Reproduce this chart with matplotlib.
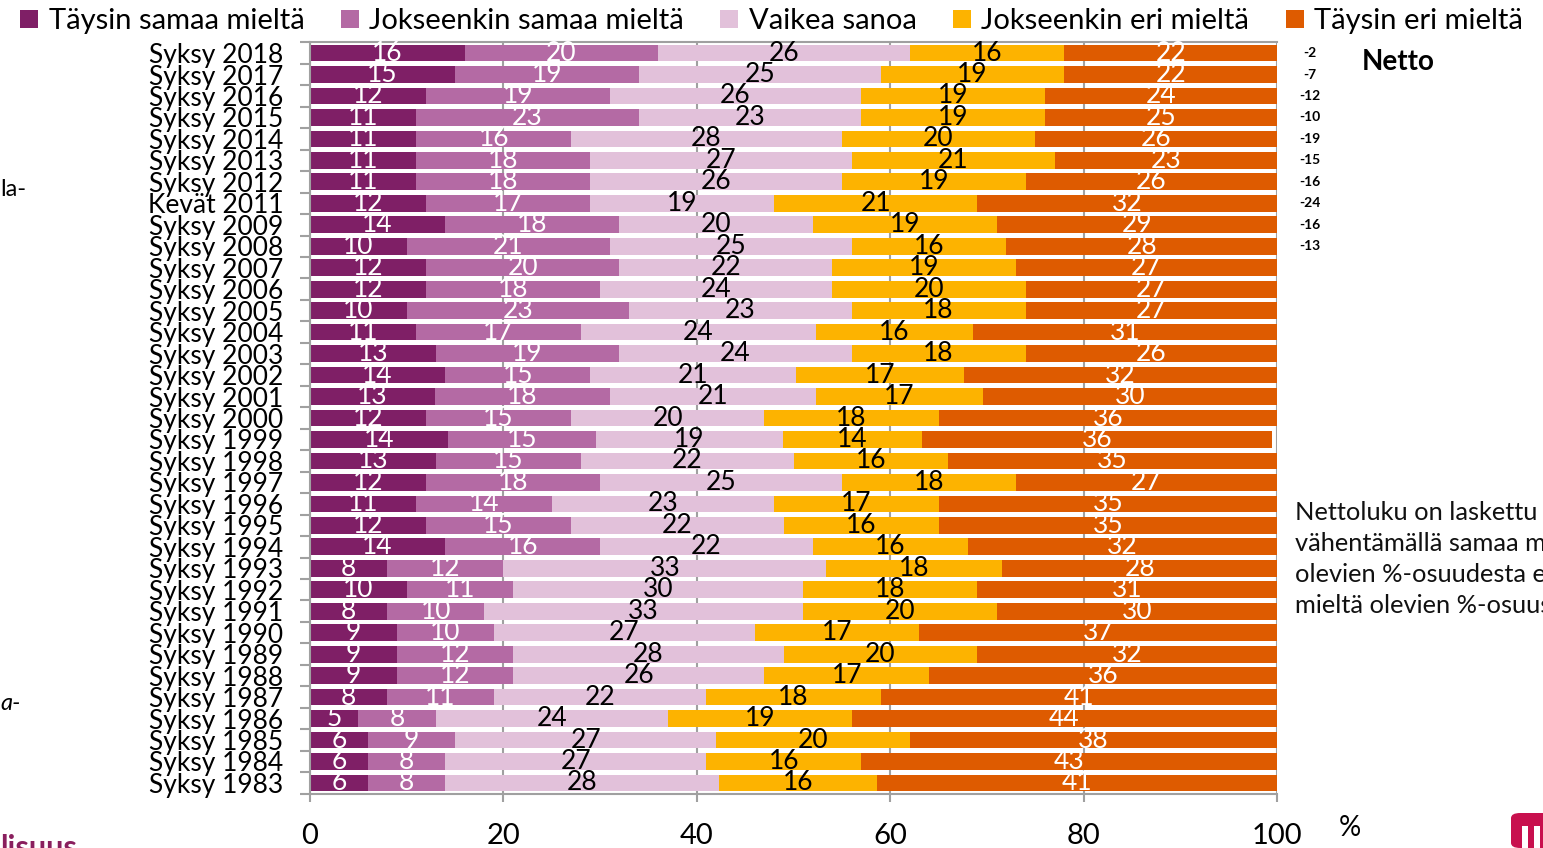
import matplotlib
matplotlib.use("Agg")
import matplotlib.pyplot as plt
import numpy as np
from matplotlib.patches import Patch, FancyBboxPatch

plt.rcParams['font.family'] = ['Lato', 'DejaVu Sans']

periods = ["Syksy 2018", "Syksy 2017", "Syksy 2016", "Syksy 2015", "Syksy 2014", "Syksy 2013",
           "Syksy 2012", "Kevät 2011", "Syksy 2009", "Syksy 2008", "Syksy 2007", "Syksy 2006",
           "Syksy 2005", "Syksy 2004", "Syksy 2003", "Syksy 2002", "Syksy 2001", "Syksy 2000",
           "Syksy 1999", "Syksy 1998", "Syksy 1997", "Syksy 1996", "Syksy 1995", "Syksy 1994",
           "Syksy 1993", "Syksy 1992", "Syksy 1991", "Syksy 1990", "Syksy 1989", "Syksy 1988",
           "Syksy 1987", "Syksy 1986", "Syksy 1985", "Syksy 1984", "Syksy 1983"]

taysin_samaa = [16, 15, 12, 11, 11, 11, 11, 12, 14, 10, 12, 12, 10, 11, 13, 14, 12.9, 12,
                14.3, 13, 12, 11, 12, 14, 8, 10, 8, 9, 9, 9, 8, 5, 6, 6, 6]
jokseenkin_samaa = [20, 19, 19, 23, 16, 18, 18, 17, 18, 21, 20, 18, 23, 17, 19, 15, 18.1, 15,
                    15.3, 15, 18, 14, 15, 16, 12, 11, 10, 10, 12, 12, 11, 8, 9, 8, 8]
vaikea_sanoa = [26, 25, 26, 23, 28, 27, 26, 19, 20, 25, 22, 24, 23, 24.3, 24, 21.3, 21.3, 20,
                19.3, 22, 25, 23, 22, 22, 33.4, 30, 33, 27, 28, 26, 22, 24, 27, 27, 28.3]
jokseenkin_eri = [16, 19, 19, 19, 20, 21, 19, 21, 19, 16, 19, 20, 18, 16.3, 18, 17.3, 17.3, 18,
                  14.4, 16, 18, 17, 16, 16, 18.2, 18, 20, 17, 20, 17, 18, 19, 20, 16, 16.3]
taysin_eri = [22, 22, 24, 25, 26, 23, 26, 32, 29, 28, 27, 27, 27, 31.4, 26, 32.4, 30.4, 36,
              36.2, 35, 27, 35, 35, 32, 28.4, 31, 30, 37, 32, 36, 41, 44, 38, 43, 41.4]

netto = [-2, -7, -12, -10, -19, -15, -16, -24, -16, -13]

series_names = ["Täysin samaa mieltä", "Jokseenkin samaa mieltä", "Vaikea sanoa",
                "Jokseenkin eri mieltä", "Täysin eri mieltä"]
series_values = [taysin_samaa, jokseenkin_samaa, vaikea_sanoa, jokseenkin_eri, taysin_eri]
colors = ["#7f1f66", "#b46aa4", "#e2c1da", "#fdb300", "#de5b00"]
label_colors = ["white", "white", "black", "black", "white"]
x_ticks = [0, 20, 40, 60, 80, 100]

fig = plt.figure(figsize=(15.43, 8.48), dpi=100)
ax = fig.add_axes([310 / 1543, 1 - 793.7 / 848, (1277 - 310) / 1543, (793.7 - 42.3) / 848])

y = np.arange(len(periods))
left = np.zeros(len(periods))
for name, vals, col, lc in zip(series_names, series_values, colors, label_colors):
    vals = np.array(vals, dtype=float)
    bars = ax.barh(y, vals, left=left, height=0.78, color=col, label=name, zorder=2)
    ax.bar_label(bars, fmt='%.0f', label_type='center', color=lc, fontsize=19, padding=0)
    left = left + vals

ax.set_xlim(0, 100)
ax.set_ylim(len(periods) - 0.5, -0.5)
ax.set_yticks(y)
ax.set_yticklabels(periods, fontsize=19)
ax.set_yticks(np.arange(len(periods) + 1) - 0.5, minor=True)
ax.tick_params(axis='y', which='major', length=0, pad=19)
ax.tick_params(axis='y', which='minor', length=7, color='#a0a0a0', width=1.5)
ax.set_xticks(x_ticks)
ax.set_xticklabels([str(t) for t in x_ticks], fontsize=21)
ax.tick_params(axis='x', length=6, color='#a0a0a0', width=1.5, pad=15)
ax.xaxis.grid(True, color='#a0a0a0', linewidth=1.5, zorder=0)
ax.set_axisbelow(True)
for s in ['left', 'bottom', 'top']:
    ax.spines[s].set_color('#a0a0a0')
    ax.spines[s].set_linewidth(1.5)
ax.spines['right'].set_visible(False)

# percent sign
fig.text(1350 / 1543, 1 - 828 / 848, "%", fontsize=20, ha='center', va='center')

# legend
handles = [Patch(facecolor=c, edgecolor='none') for c in colors]
fig.legend(handles, series_names, loc='upper center', bbox_to_anchor=(0.5, 1.004), ncol=5,
           frameon=False, fontsize=21, handlelength=0.62, handleheight=0.62,
           handletextpad=0.35, columnspacing=1.25, borderaxespad=0)

# netto values
for i, n in enumerate(netto):
    ax.text(1.0 + 33 / 967, i, str(n), transform=ax.get_yaxis_transform(),
            fontsize=10, fontweight='bold', ha='center', va='center')
fig.text(1398 / 1543, 1 - 62 / 848, "Netto", fontsize=20, fontweight='bold',
         ha='center', va='center')

# explanatory note
fig.text(1295 / 1543, 1 - 501 / 848,
         "Nettoluku on laskettu\nvähentämällä samaa mieltä\nolevien %-osuudesta eri\nmieltä olevien %-osuus",
         fontsize=18.3, ha='left', va='top', linespacing=1.42, color='#111111')

# cropped slide fragments
fig.text(0, 1 - 190 / 848, "la-", fontsize=17, ha='left', va='center')
fig.text(0, 1 - 703 / 848, "a-", fontsize=17, ha='left', va='center', style='italic')
fig.text(0.0, 1 - 862 / 848, "lisuus", fontsize=22, fontweight='bold', color='#8a1f5e',
         ha='left', va='bottom')
logo = FancyBboxPatch((1511 / 1543, 0), 0.05, 35 / 848, boxstyle="round,pad=0,rounding_size=0.006",
                      transform=fig.transFigure, facecolor='#c8104e', edgecolor='none')
fig.patches.append(logo)
fig.patches.append(plt.Rectangle((1522 / 1543, 0), 6 / 1543, 22 / 848, transform=fig.transFigure,
                                 facecolor='white', edgecolor='none'))
fig.patches.append(plt.Rectangle((1534 / 1543, 0), 6 / 1543, 22 / 848, transform=fig.transFigure,
                                 facecolor='white', edgecolor='none'))

fig.savefig("out.png", dpi=100)
